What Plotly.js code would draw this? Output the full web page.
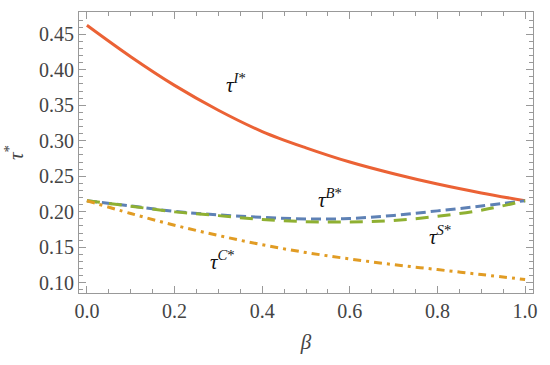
<!DOCTYPE html>
<html><head><meta charset="utf-8">
<script src="https://cdn.plot.ly/plotly-3.0.1.min.js"></script>
</head><body style="margin:0;background:#fff">
<div id="c" style="width:550px;height:365px"></div>
<script>
const beta = [0.0, 0.1, 0.2, 0.3, 0.4, 0.5, 0.6, 0.7, 0.8, 0.9, 1.0];
const tauI = [0.4627, 0.4184, 0.378, 0.343, 0.313, 0.290, 0.270, 0.2535, 0.239, 0.2265, 0.2155];
const tauB = [0.2155, 0.2081, 0.2005, 0.1955, 0.192, 0.1898, 0.1905, 0.1948, 0.2012, 0.208, 0.2155];
const tauS = [0.2155, 0.2078, 0.1998, 0.1945, 0.189, 0.186, 0.1855, 0.1878, 0.1935, 0.2022, 0.2155];
const tauC = [0.2155, 0.1975, 0.181, 0.1665, 0.1535, 0.1425, 0.1335, 0.1255, 0.1185, 0.1115, 0.1045];
const xTickVals = [0, 0.2, 0.4, 0.6, 0.8, 1.0];
const xTickText = ['0.0', '0.2', '0.4', '0.6', '0.8', '1.0'];
const yTickVals = [0.10, 0.15, 0.20, 0.25, 0.30, 0.35, 0.40, 0.45];
const yTickText = ['0.10', '0.15', '0.20', '0.25', '0.30', '0.35', '0.40', '0.45'];
const labelText = ['<i>τ</i><sup><i>I</i>*</sup>', '<i>τ</i><sup><i>B</i>*</sup>', '<i>τ</i><sup><i>S</i>*</sup>', '<i>τ</i><sup><i>C</i>*</sup>'];
const labelX = [0.34, 0.555, 0.806, 0.31];
const labelY = [0.381, 0.218, 0.166, 0.132];

const traces = [
  {x: beta, y: tauI, mode: 'lines', line: {color: '#EB6235', width: 3, shape: 'spline'}},
  {x: beta, y: tauB, mode: 'lines', line: {color: '#5E81B5', width: 3, dash: '10px,5px', shape: 'spline'}},
  {x: beta, y: tauS, mode: 'lines', line: {color: '#8FB032', width: 3, dash: '13px,9px', shape: 'spline'}},
  {x: beta, y: tauC, mode: 'lines', line: {color: '#E19C24', width: 3, dash: '8px,5px,3px,5px', shape: 'spline'}}
];
const annotations = labelText.map((t, i) => ({
  x: labelX[i], y: labelY[i], xref: 'x', yref: 'y', text: t, showarrow: false,
  font: {family: 'Times New Roman', size: 21, color: '#111'}
}));
const layout = {
  width: 550, height: 365, showlegend: false,
  paper_bgcolor: '#fff', plot_bgcolor: '#fff',
  margin: {l: 79, r: 17, t: 12, b: 72},
  xaxis: {
    showgrid: false, zeroline: false, showline: true, linecolor: '#999', linewidth: 1,
    mirror: 'allticks', ticks: 'inside', ticklen: 7, tickcolor: '#999', tickwidth: 1,
    tickfont: {family: 'Times New Roman', size: 20},
    range: [-0.018, 1.018], tickvals: xTickVals, ticktext: xTickText,
    minor: {dtick: 0.05, tick0: 0, ticks: 'inside', ticklen: 4, tickcolor: '#999'},
    title: {text: '<i>β</i>', font: {family: 'Times New Roman', size: 21}, standoff: 13}
  },
  yaxis: {
    showgrid: false, zeroline: false, showline: true, linecolor: '#999', linewidth: 1,
    mirror: 'allticks', ticks: 'inside', ticklen: 7, tickcolor: '#999', tickwidth: 1,
    tickfont: {family: 'Times New Roman', size: 20},
    range: [0.0855, 0.4814], tickvals: yTickVals, ticktext: yTickText,
    minor: {dtick: 0.01, tick0: 0, ticks: 'inside', ticklen: 4, tickcolor: '#999'},
    title: {text: '<i>τ</i><sup>*</sup>', font: {family: 'Times New Roman', size: 21}, standoff: 9}
  },
  annotations: annotations
};
Plotly.newPlot('c', traces, layout, {staticPlot: true});
</script></body></html>
